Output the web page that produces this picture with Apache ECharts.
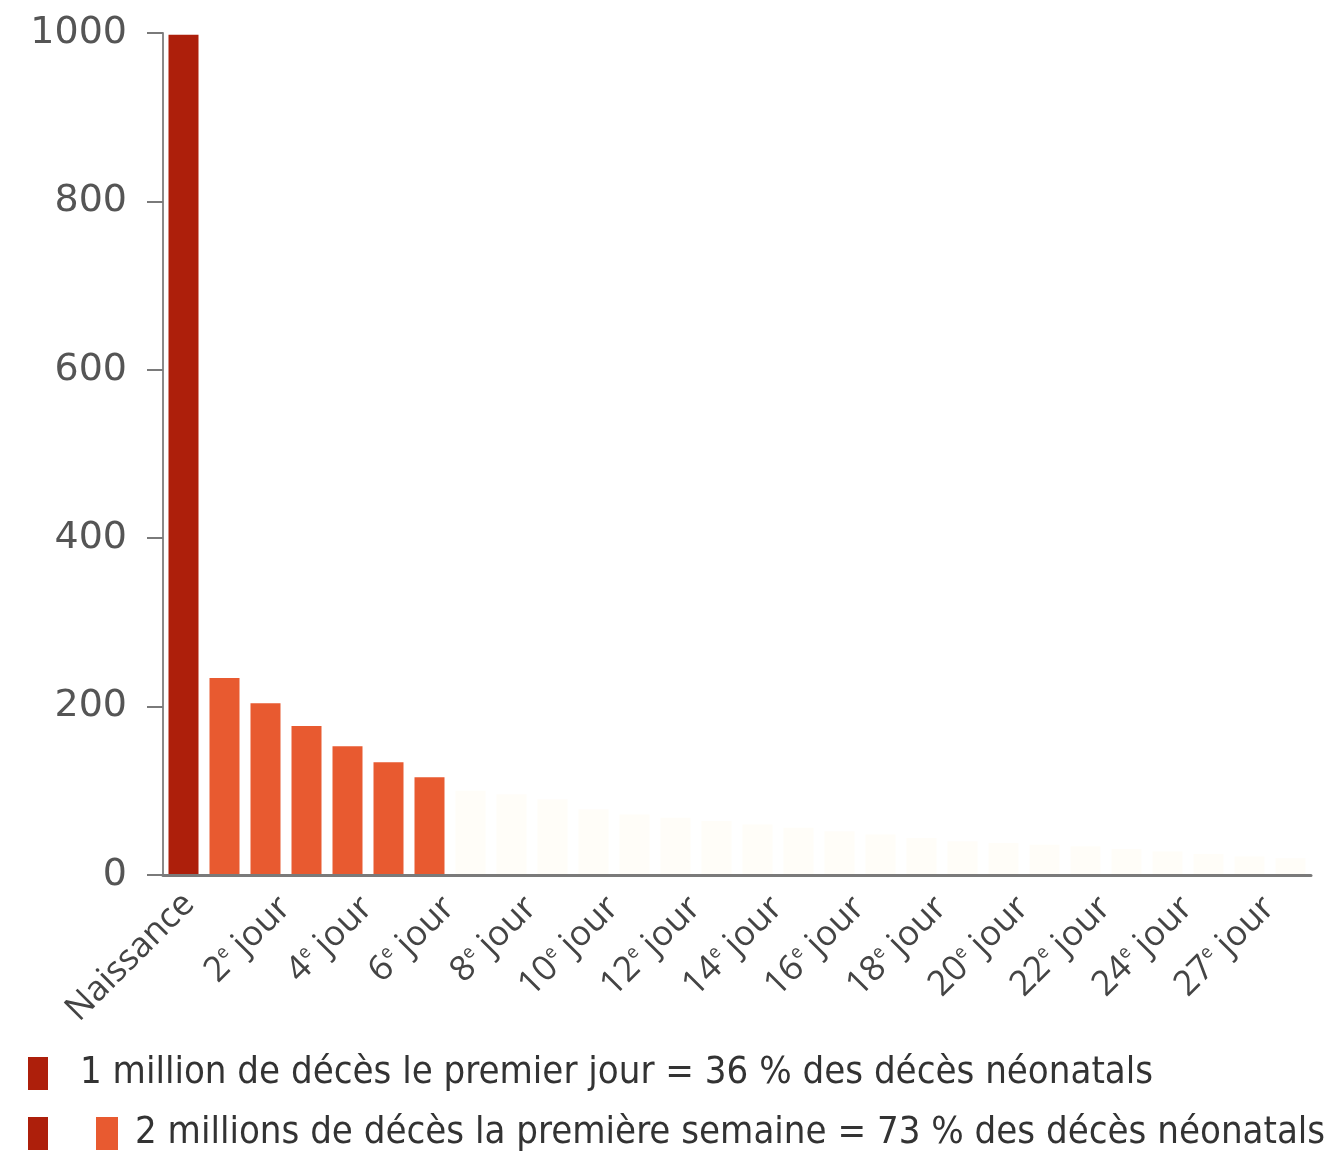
<!DOCTYPE html>
<html>
<head>
<meta charset="utf-8">
<script src="https://cdn.jsdelivr.net/npm/echarts@6/dist/echarts.min.js"></script>
<style>
html,body{margin:0;padding:0;background:#fff;}
#chart{width:1328px;height:1166px;}
</style>
</head>
<body>
<div id="chart"></div>
<script>
// Categories: one per day of the neonatal period (28 bars)
const categories = ["Naissance","1","2","3","4","5","6","7","8","9","10","11","12","13","14","15","16","17","18","19","20","21","22","23","24","25","26","27"];
// Tick labels shown under the axis (as printed in the reference); number part | superscript
const tickLabels = ["Naissance","","2|e","","4|e","","6|e","","8|e","","10|e","","12|e","","14|e","","16|e","","18|e","","20|e","","22|e","","24|e","","27|e",""];
// Deaths (thousands) per day
const firstDay = [998];
const restOfWeek = [234, 204, 177, 153, 134, 116];
const laterDays = [100, 96, 90, 78, 72, 68, 64, 60, 56, 52, 48, 44, 40, 38, 36, 34, 31, 28, 25, 22, 20];
const yTicks = [0, 200, 400, 600, 800, 1000];
const legendLines = [
  "1 million de décès le premier jour = 36 % des décès néonatals",
  "2 millions de décès la première semaine = 73 % des décès néonatals"
];

const DARK = "#ad1f0b";
const ORANGE = "#e85a30";
const PALE = "#fffdf8";

const values = firstDay.concat(restOfWeek, laterDays);
const data = values.map((v, i) => ({
  value: v,
  itemStyle: { color: i < firstDay.length ? DARK : (i < firstDay.length + restOfWeek.length ? ORANGE : PALE) }
}));

const chart = echarts.init(document.getElementById('chart'), null, {renderer: 'canvas'});
const FONT = "'Open Sans', 'DejaVu Sans', sans-serif";
const YFONT = "'DejaVu Sans', sans-serif";
const LEGFONT = "'Liberation Sans Narrow', 'DejaVu Sans Condensed', sans-serif";

function jourLabel(v, idx) {
  const t = tickLabels[idx];
  if (!t || t.indexOf('|') < 0) return '';
  const p = t.split('|');
  return p[0] + '{sup|' + p[1] + '} jour';
}
function plainLabel(v, idx) {
  const t = tickLabels[idx];
  if (!t || t.indexOf('|') >= 0) return '';
  return t;
}

chart.setOption({
  animation: false,
  backgroundColor: '#ffffff',
  grid: { left: 163, right: 17, top: 33, bottom: 291, containLabel: false },
  xAxis: [{
    type: 'category',
    data: categories,
    z: 5,
    axisLine: { show: true, lineStyle: { color: '#7a7a7a', width: 3 } },
    axisTick: { show: false },
    axisLabel: {
      interval: 0,
      rotate: 45,
      margin: 8,
      verticalAlign: 'top',
      padding: [10, 0, 0, 0],
      color: '#444',
      fontFamily: FONT,
      fontSize: 35,
      formatter: jourLabel,
      rich: {
        sup: { fontSize: 18, verticalAlign: 'top', padding: [0, 0, 16, 0], color: '#444', fontFamily: FONT }
      }
    }
  }, {
    type: 'category',
    data: categories,
    position: 'bottom',
    axisLine: { show: false },
    axisTick: { show: false },
    axisLabel: {
      interval: 0,
      rotate: 45,
      margin: 4,
      verticalAlign: 'top',
      padding: [0, 10, 0, 0],
      color: '#444',
      fontFamily: FONT,
      fontSize: 35,
      formatter: plainLabel
    }
  }],
  yAxis: {
    type: 'value',
    min: 0,
    max: 1000,
    interval: 200,
    z: 5,
    axisLine: { show: true, lineStyle: { color: '#8a8a8a', width: 2 } },
    axisTick: { show: true, length: 16, lineStyle: { color: '#7a7a7a', width: 2 } },
    splitLine: { show: false },
    axisLabel: {
      margin: 36,
      color: '#555',
      fontFamily: YFONT,
      fontSize: 38,
      formatter: function (v) { return yTicks.indexOf(v) >= 0 ? String(v) : ''; }
    }
  },
  series: [{
    type: 'bar',
    xAxisIndex: 0,
    data: data,
    barWidth: 30,
    silent: true
  }],
  graphic: [
    { type: 'rect', left: 28, top: 1057, shape: { width: 20, height: 33 }, style: { fill: DARK } },
    { type: 'text', left: 80, top: 1054, style: { text: legendLines[0], font: '38px ' + LEGFONT, fill: '#333' } },
    { type: 'rect', left: 28, top: 1117, shape: { width: 20, height: 33 }, style: { fill: DARK } },
    { type: 'rect', left: 96, top: 1117, shape: { width: 22, height: 33 }, style: { fill: ORANGE } },
    { type: 'text', left: 135, top: 1114, style: { text: legendLines[1], font: '38px ' + LEGFONT, fill: '#333' } }
  ]
});
</script>
</body>
</html>
